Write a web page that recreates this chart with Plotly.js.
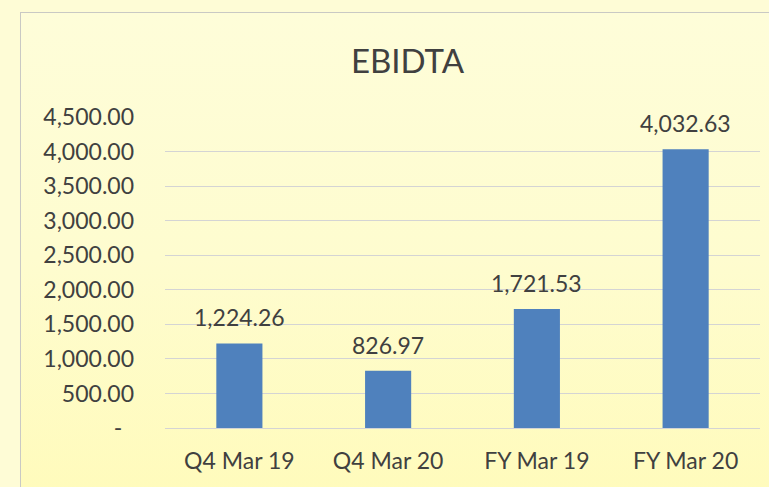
<!DOCTYPE html>
<html>
<head>
<meta charset="utf-8">
<script src="https://cdn.plot.ly/plotly-3.0.1.min.js"></script>
<style>
html, body { margin:0; padding:0; width:769px; height:487px; overflow:hidden; background:#FEFCD6; }
#frame { position:absolute; left:20px; top:12px; width:760px; height:490px;
  border-left:1.5px solid #C9C9C4; border-top:1.5px solid #C9C9C4;
  background:linear-gradient(to bottom, #FEFDD9 0%, #FEFCCF 50%, #FFFBBB 100%); }
#chart { position:absolute; left:0; top:0; width:769px; height:487px; }
</style>
</head>
<body>
<div id="frame"></div>
<div id="chart"></div>
<script>
const categories = ["Q4 Mar 19", "Q4 Mar 20", "FY Mar 19", "FY Mar 20"];
const ebidta = [1224.26, 826.97, 1721.53, 4032.63];
const yTickVals = [0, 500, 1000, 1500, 2000, 2500, 3000, 3500, 4000, 4500];
const yTickText = ["-\u00a0\u00a0", "500.00", "1,000.00", "1,500.00", "2,000.00", "2,500.00", "3,000.00", "3,500.00", "4,000.00", "4,500.00"];

const font = "Lato, 'Open Sans', sans-serif";
const textColor = "#404040";
const fmt = v => v.toLocaleString("en-US", { minimumFractionDigits: 2, maximumFractionDigits: 2 });

const trace = {
  type: "bar",
  x: categories,
  y: ebidta,
  marker: { color: "#4F81BD" },
  cliponaxis: false,
  hoverinfo: "none"
};
const labels = categories.map((c, i) => ({
  x: c, y: ebidta[i], xref: "x", yref: "y",
  text: fmt(ebidta[i]), showarrow: false,
  yanchor: "middle", yshift: 26,
  font: { family: font, size: 23, color: textColor }
}));
const layout = {
  width: 769, height: 487,
  paper_bgcolor: "rgba(0,0,0,0)",
  plot_bgcolor: "rgba(0,0,0,0)",
  margin: { l: 165, r: 9, t: 117, b: 59 },
  title: { text: "EBIDTA", font: { family: font, size: 33, color: textColor }, x: 0.53, xanchor: "center", y: 0.873, yanchor: "middle" },
  bargap: 0.69,
  showlegend: false,
  annotations: labels,
  xaxis: {
    showgrid: false, zeroline: false, showline: false, ticks: "",
    tickfont: { family: font, size: 23, color: textColor },
    ticklabelstandoff: 17
  },
  yaxis: {
    range: [0, 4500], tickvals: yTickVals, ticktext: yTickText,
    showgrid: true, gridcolor: "#D4D4D4", gridwidth: 1,
    zeroline: true, zerolinecolor: "#D4D4D4", zerolinewidth: 1,
    showline: false, ticks: "",
    tickfont: { family: font, size: 23, color: textColor },
    ticklabelstandoff: 30
  }
};
Plotly.newPlot("chart", [trace], layout, { staticPlot: true, displayModeBar: false });
</script>
</body>
</html>
